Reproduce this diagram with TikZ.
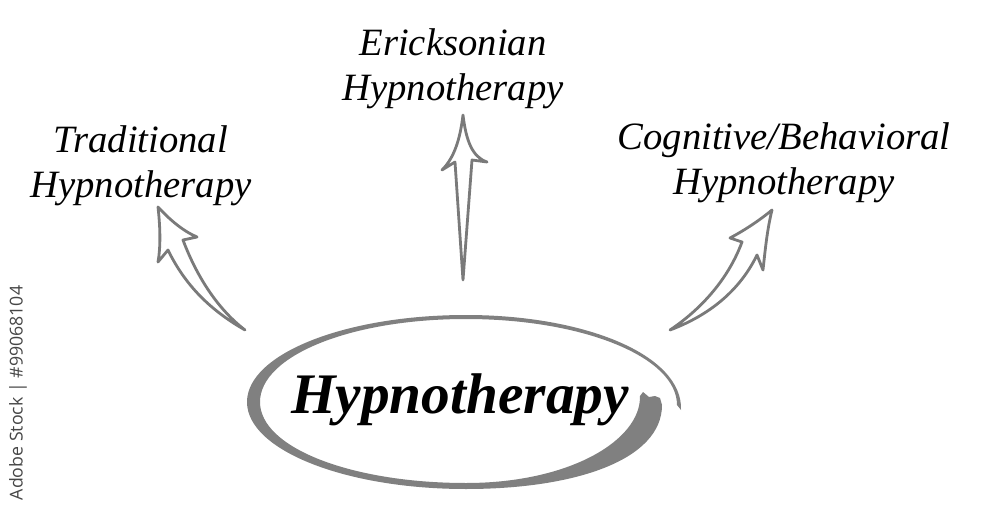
\documentclass[tikz,border=0pt]{standalone}
\usepackage{fontspec}
\setmainfont{Liberation Serif}
\newfontfamily\wmfont{Open Sans}
\definecolor{strokegray}{RGB}{122,122,122}
\definecolor{ringgray}{RGB}{128,128,128}
\definecolor{wmgray}{RGB}{70,70,70}
\begin{document}
\begin{tikzpicture}[x=0.75pt,y=-0.75pt,
  arrowshape/.style={draw=strokegray,line width=2.1pt,line join=round,fill=white},
  lbl/.style={font=\itshape\fontsize{29}{34}\selectfont,align=center,inner sep=0pt},
  mainlbl/.style={font=\bfseries\itshape\fontsize{43}{48}\selectfont,inner sep=0pt}]
\useasboundingbox[fill=white] (0,0) rectangle (1000,514);

% hand-drawn ring
\fill[ringgray]
  (681,410) .. controls (683,355) and (585,315) .. (466,315)
  .. controls (345,315) and (247,354) .. (247,402)
  .. controls (247,450) and (345,489) .. (466,489)
  .. controls (575,489) and (662,460) .. (662,405)
  -- (660,398) -- (655,396) -- (649,397) -- (643,392) -- (640,396)
  .. controls (641,440) and (570,483) .. (466,483)
  .. controls (352,483) and (260,448) .. (260,402)
  .. controls (260,356) and (350,319) .. (466,319)
  .. controls (583,319) and (677,357) .. (677,405)
  -- cycle;

% arrows
\draw[arrowshape] (463,115) .. controls (466,140) and (472,157) .. (487,162)
  -- (472,160) -- (463,280) -- (455,162) -- (442,170)
  .. controls (454,158) and (460,140) .. (463,115) -- cycle;
\draw[arrowshape] (158,207) .. controls (170,220) and (183,231) .. (197,237)
  -- (183,240) .. controls (195,272) and (215,307) .. (245,330)
  .. controls (210,310) and (185,285) .. (168,250)
  -- (158,262) .. controls (161,245) and (160,225) .. (158,207) -- cycle;
\draw[arrowshape] (772,210) .. controls (767,230) and (765,252) .. (763,270)
  -- (757,255) .. controls (740,290) and (710,315) .. (670,330)
  .. controls (700,310) and (728,280) .. (742,242)
  -- (730,238) .. controls (745,230) and (760,220) .. (772,210) -- cycle;

% labels
\node[lbl] (erick) at (453,69) {Ericksonian\\Hypnotherapy};
\node[lbl] (trad) at (141,166) {Traditional\\Hypnotherapy};
\node[lbl] (cogn) at (784,163) {Cognitive/Behavioral\\Hypnotherapy};
\node[mainlbl] (hyp) at (460,400) {Hypnotherapy};

% side credit
\node[font=\wmfont\fontsize{13.3}{13.3}\selectfont,text=wmgray,rotate=90,inner sep=0pt] (credit) at (18,393) {Adobe Stock | \#99068104};
\end{tikzpicture}
\end{document}
